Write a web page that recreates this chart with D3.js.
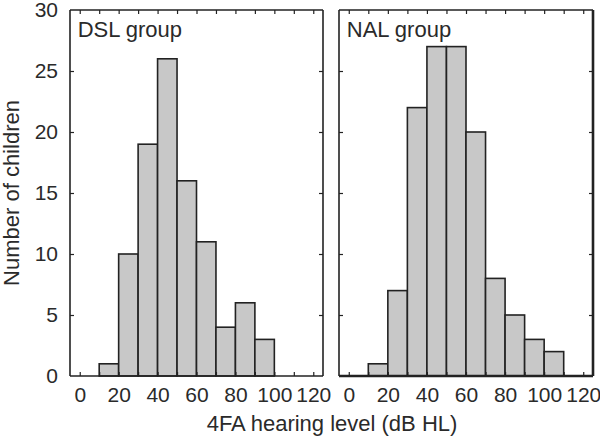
<!DOCTYPE html>
<html>
<head>
<meta charset="utf-8">
<script src="https://cdn.jsdelivr.net/npm/d3@7"></script>
<style>
  html, body { margin: 0; padding: 0; background: #fff; }
  svg { display: block; }
  text { font-family: "Liberation Sans", Arial, sans-serif; fill: #2a2a2a; }
</style>
</head>
<body>
<svg id="chart" width="600" height="440"></svg>
<script>
// ---- data ----
const binStarts = [10, 20, 30, 40, 50, 60, 70, 80, 90, 100];
const binWidth = 10;
const dslCounts = [1, 10, 19, 26, 16, 11, 4, 6, 3, 0];
const nalCounts = [1, 7, 22, 27, 27, 20, 8, 5, 3, 2];
const panelNames = ["DSL group", "NAL group"];
const xTickLabels = [0, 20, 40, 60, 80, 100, 120];
const xMinorTicks = [0, 10, 20, 30, 40, 50, 60, 70, 80, 90, 100, 110, 120];
const yTickLabels = [0, 5, 10, 15, 20, 25, 30];
const yInnerTicks = [5, 10, 15, 20, 25];
const xTitle = "4FA hearing level (dB HL)";
const yTitle = "Number of children";

// ---- layout ----
const svg = d3.select("#chart");
const plotTop = 10, plotBottom = 376;
const panels = [
  { name: panelNames[0], counts: dslCounts, x0: 70, x1: 323, showY: true, heavy: false },
  { name: panelNames[1], counts: nalCounts, x0: 339, x1: 593, showY: false, heavy: true }
];
const y = d3.scaleLinear().domain([0, 30]).range([plotBottom, plotTop]);
const FS = 22;
const TFS = 21;
const ink = "#222";
const txt = "#2a2a2a";

panels.forEach(p => {
  const x = d3.scaleLinear().domain([-5, 125]).range([p.x0, p.x1]);
  const g = svg.append("g");

  // bars
  const bins = binStarts.map((s, i) => ({ s, v: p.counts[i] })).filter(d => d.v > 0);
  g.selectAll("rect.bar").data(bins).enter().append("rect")
    .attr("class", "bar")
    .attr("x", d => x(d.s))
    .attr("y", d => y(d.v))
    .attr("width", d => x(d.s + binWidth) - x(d.s))
    .attr("height", d => y(0) - y(d.v))
    .attr("fill", "#c8c8c8")
    .attr("stroke", ink)
    .attr("stroke-width", 1.6);

  // inward minor ticks bottom/top
  const tb = g.append("g").attr("transform", `translate(0,${plotBottom})`)
    .call(d3.axisBottom(x).tickValues(xMinorTicks).tickSize(-4).tickFormat(""));
  tb.select(".domain").remove();
  const tt = g.append("g").attr("transform", `translate(0,${plotTop})`)
    .call(d3.axisTop(x).tickValues(xMinorTicks).tickSize(-4).tickFormat(""));
  tt.select(".domain").remove();

  // x labels
  const xl = g.append("g").attr("transform", `translate(0,${plotBottom})`)
    .call(d3.axisBottom(x).tickValues(xTickLabels).tickSize(0).tickPadding(11));
  xl.select(".domain").remove();
  xl.selectAll("text").style("font-size", TFS + "px").style("font-family", "Liberation Sans, Arial, sans-serif").attr("fill", txt);

  // y inner ticks both sides
  const yl = g.append("g").attr("transform", `translate(${p.x0},0)`)
    .call(d3.axisLeft(y).tickValues(yInnerTicks).tickSize(-4).tickFormat(""));
  yl.select(".domain").remove();
  const yr = g.append("g").attr("transform", `translate(${p.x1},0)`)
    .call(d3.axisRight(y).tickValues(yInnerTicks).tickSize(-4).tickFormat(""));
  yr.select(".domain").remove();
  g.selectAll(".tick line").attr("stroke", ink).attr("stroke-width", 1.2);

  if (p.showY) {
    const ya = g.append("g").attr("transform", `translate(${p.x0},0)`)
      .call(d3.axisLeft(y).tickValues(yTickLabels).tickSize(0).tickPadding(12));
    ya.select(".domain").remove();
    ya.selectAll("text").style("font-size", TFS + "px").style("font-family", "Liberation Sans, Arial, sans-serif").attr("fill", txt);
  }

  // frame
  const sw = 1.6;
  g.append("line").attr("x1", p.x0).attr("x2", p.x1).attr("y1", plotTop).attr("y2", plotTop)
    .attr("stroke", ink).attr("stroke-width", sw);
  g.append("line").attr("x1", p.x0).attr("x2", p.x0).attr("y1", plotTop).attr("y2", plotBottom)
    .attr("stroke", ink).attr("stroke-width", sw);
  g.append("line").attr("x1", p.x1).attr("x2", p.x1).attr("y1", plotTop).attr("y2", plotBottom)
    .attr("stroke", ink).attr("stroke-width", p.heavy ? 2.6 : sw);
  g.append("line").attr("x1", p.x0).attr("x2", p.x1).attr("y1", plotBottom).attr("y2", plotBottom)
    .attr("stroke", ink).attr("stroke-width", p.heavy ? 2.6 : sw);

  // group label
  g.append("text").attr("x", x(0) - 2).attr("y", 37)
    .style("font-size", FS + "px").text(p.name);
});

// axis titles
svg.append("text").attr("x", 332).attr("y", 431).attr("text-anchor", "middle")
  .style("font-size", FS + "px").text(xTitle);
svg.append("text").attr("transform", `translate(19,193) rotate(-90)`).attr("text-anchor", "middle")
  .style("font-size", FS + "px").text(yTitle);
</script>
</body>
</html>
